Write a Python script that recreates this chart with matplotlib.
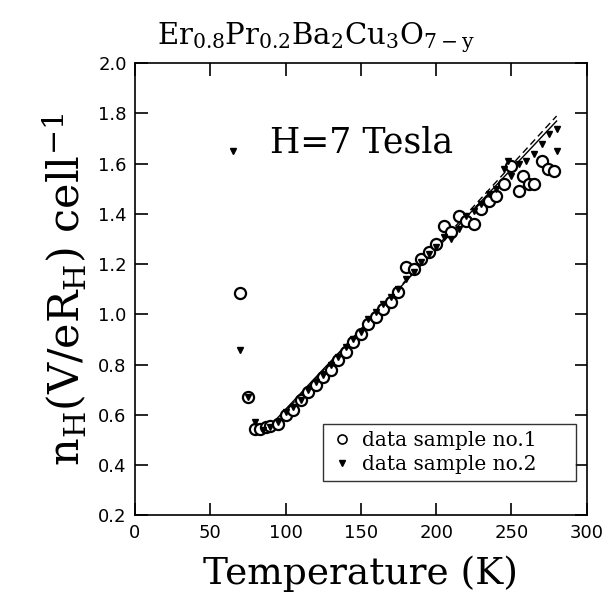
import matplotlib
matplotlib.use("Agg")
import matplotlib.pyplot as plt
from matplotlib.lines import Line2D

# ---- data ----
T1 = [70, 75, 80, 83, 87, 90, 95, 100, 105, 110, 115, 120, 125, 130, 135, 140,
      145, 150, 155, 160, 165, 170, 175, 180, 185, 190, 195, 200, 205, 210,
      215, 220, 225, 230, 235, 240, 245, 250, 255, 258, 262, 265, 270, 274, 278]
n1 = [1.085, 0.67, 0.545, 0.545, 0.55, 0.555, 0.565, 0.60, 0.62, 0.66, 0.69,
      0.72, 0.75, 0.78, 0.82, 0.85, 0.89, 0.92, 0.96, 0.99, 1.02, 1.05, 1.09,
      1.19, 1.18, 1.22, 1.25, 1.28, 1.35, 1.33, 1.39, 1.37, 1.36, 1.42, 1.45,
      1.47, 1.52, 1.59, 1.49, 1.55, 1.52, 1.52, 1.61, 1.58, 1.57]

T2 = [65, 70, 75, 80, 85, 90, 95, 100, 105, 110, 115, 120, 125, 130, 135, 140,
      145, 150, 155, 160, 165, 170, 175, 180, 185, 190, 195, 200, 205, 210,
      215, 220, 225, 230, 235, 240, 245, 248, 250, 255, 260, 265, 270, 275,
      280, 280]
n2 = [1.65, 0.86, 0.67, 0.57, 0.54, 0.55, 0.57, 0.61, 0.63, 0.66, 0.70, 0.73,
      0.76, 0.80, 0.83, 0.87, 0.90, 0.93, 0.98, 1.01, 1.04, 1.07, 1.10, 1.14,
      1.17, 1.21, 1.24, 1.27, 1.31, 1.30, 1.34, 1.39, 1.41, 1.44, 1.48, 1.50,
      1.58, 1.61, 1.55, 1.60, 1.61, 1.64, 1.68, 1.72, 1.74, 1.65]

fit_T = [88, 280]
fit_solid = [0.545, 1.77]
fit_dashed = [0.535, 1.79]

xticks = [0, 50, 100, 150, 200, 250, 300]
yticks = [0.2, 0.4, 0.6, 0.8, 1.0, 1.2, 1.4, 1.6, 1.8, 2.0]

# ---- figure ----
plt.rcParams['mathtext.fontset'] = 'dejavuserif'
fig = plt.figure(figsize=(6.08, 5.97), dpi=100)
ax = fig.add_axes([0.222, 0.137, 0.743, 0.757])

ax.plot(fit_T, fit_solid, color='black', lw=1.0, ls='-', zorder=2)
ax.plot(fit_T, fit_dashed, color='black', lw=1.0, ls=(0, (5, 3)), zorder=2)
ax.plot(T1, n1, ls='none', marker='o', ms=8, mfc='white', mec='black',
        mew=1.6, zorder=3)
ax.plot(T2, n2, ls='none', marker='v', ms=5, mfc='black', mec='black',
        zorder=4)

ax.set_xlim(0, 300)
ax.set_ylim(0.2, 2.0)
ax.set_xticks(xticks)
ax.set_yticks(yticks)
ax.set_xticklabels([str(t) for t in xticks], fontsize=13, family='DejaVu Sans')
ax.set_yticklabels([f"{t:.1f}" for t in yticks], fontsize=13, family='DejaVu Sans')
ax.tick_params(direction='in', length=9, width=1.2, top=True, right=True, pad=6)
for s in ax.spines.values():
    s.set_linewidth(1.2)

ax.set_xlabel('Temperature (K)', fontsize=27, family='DejaVu Serif', labelpad=10)
ax.set_ylabel(r'$\mathregular{n_H(V/eR_H)\ cell^{-1}}$', fontsize=31,
              family='DejaVu Serif', labelpad=6)
fig.text(0.52, 0.937, r'$\mathregular{Er_{0.8}Pr_{0.2}Ba_2Cu_3O_{7-y}}$',
         fontsize=21, family='DejaVu Serif', ha='center', va='center')

ax.text(90, 1.685, 'H=7 Tesla', fontsize=25, family='DejaVu Serif',
        va='center', ha='left')

handles = [Line2D([], [], ls='none', marker='o', ms=6.5, mfc='white', mec='black', mew=1.2),
           Line2D([], [], ls='none', marker='v', ms=5, mfc='black', mec='black')]
leg = ax.legend(handles, ['data sample no.1', 'data sample no.2'],
                loc='lower left', bbox_to_anchor=(0.416, 0.075, 0.56, 0.126),
                mode='expand',
                prop={'family': 'DejaVu Serif', 'size': 14.5},
                frameon=True, fancybox=False, edgecolor='black',
                handletextpad=0.4, borderpad=0.35, labelspacing=0.25,
                handlelength=1.2, borderaxespad=0)
leg.get_frame().set_linewidth(1.0)

fig.savefig('out.png', dpi=100)
